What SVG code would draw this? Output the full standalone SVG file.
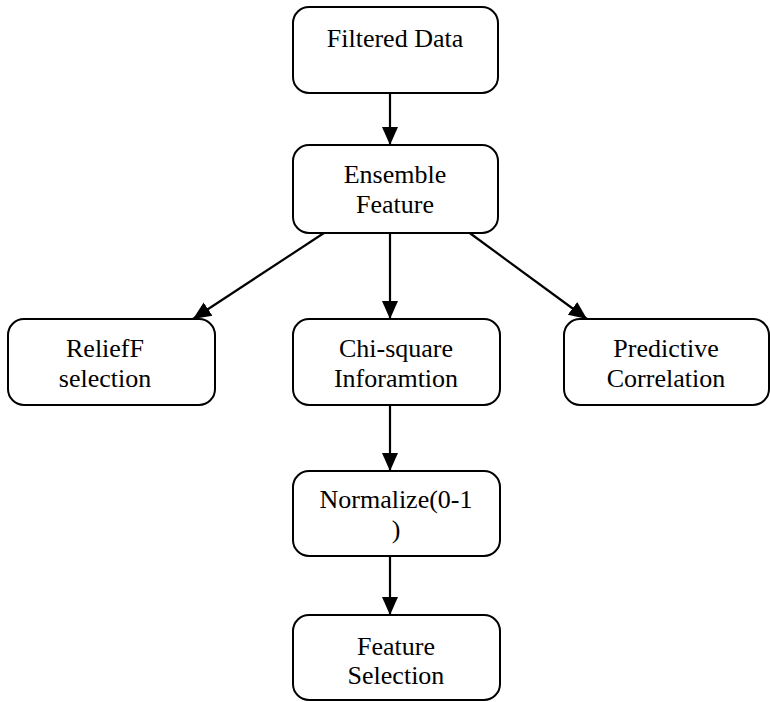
<svg xmlns="http://www.w3.org/2000/svg" width="770" height="702" viewBox="0 0 770 702">
<style>
.box{fill:#fff;stroke:#000;stroke-width:2}
text{font-family:'Liberation Serif','Times New Roman','DejaVu Serif',serif;font-size:26px;fill:#000;text-anchor:middle}
.c{stroke:#000;stroke-width:2.2;fill:none;marker-end:url(#ah)}
</style>
<defs>
<marker id="ah" markerUnits="userSpaceOnUse" markerWidth="18" markerHeight="18" viewBox="0 0 18 18" refX="18" refY="9" orient="auto">
<path d="M0,1 L18,9 L0,17 Z" fill="#000"/>
</marker>
</defs>
<g id="connectors">
<line class="c" x1="390" y1="93" x2="390" y2="145"/>
<line class="c" x1="327" y1="231" x2="193" y2="319"/>
<line class="c" x1="390" y1="233" x2="390" y2="319"/>
<line class="c" x1="467" y1="231" x2="587" y2="319"/>
<line class="c" x1="390" y1="405" x2="390" y2="471"/>
<line class="c" x1="390" y1="556" x2="390" y2="615"/>
</g>
<g id="filtered-data">
<rect class="box" x="293" y="7" width="205" height="86" rx="16"/>
<text x="395" y="47">Filtered Data</text>
</g>
<g id="ensemble-feature">
<rect class="box" x="293" y="145" width="205" height="88" rx="16"/>
<text x="395" y="183">Ensemble</text>
<text x="395" y="213">Feature</text>
</g>
<g id="relieff">
<rect class="box" x="8" y="319" width="207" height="86" rx="16"/>
<text x="105" y="357">ReliefF</text>
<text x="105" y="387">selection</text>
</g>
<g id="chi-square">
<rect class="box" x="293" y="319" width="207" height="86" rx="16"/>
<text x="396" y="357">Chi-square</text>
<text x="396" y="387">Inforamtion</text>
</g>
<g id="predictive">
<rect class="box" x="564" y="319" width="205" height="86" rx="16"/>
<text x="666" y="357">Predictive</text>
<text x="666" y="387">Correlation</text>
</g>
<g id="normalize">
<rect class="box" x="293" y="471" width="207" height="85" rx="16"/>
<text x="396" y="508">Normalize(0-1</text>
<text x="396" y="538">)</text>
</g>
<g id="feature-selection">
<rect class="box" x="293" y="615" width="207" height="85" rx="16"/>
<text x="396" y="655">Feature</text>
<text x="396" y="684">Selection</text>
</g>
</svg>
